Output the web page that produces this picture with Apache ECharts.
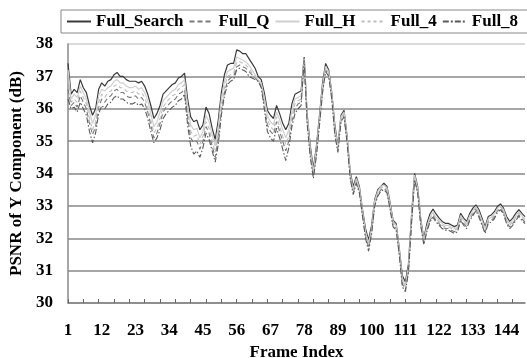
<!DOCTYPE html>
<html>
<head>
	<meta charset="utf-8">
	<title>PSNR of Y Component</title>
	<style>
		html, body { margin: 0; padding: 0; background: #fff; }
	</style>
</head>
<body>
<script type="text/javascript" src="https://cdn.jsdelivr.net/npm/echarts@6/dist/echarts.min.js"></script>
<div style="width:527px;height:358px;" id="chart"></div>
<script>
// frame index 1..150
var frames = [];
for (var f = 1; f <= 150; f++) { frames.push(String(f)); }

var seriesNames = ['Full_Search', 'Full_Q', 'Full_H', 'Full_4', 'Full_8'];

var fullSearch = [
    37.4, 36.45, 36.6, 36.5, 36.9, 36.65, 36.5, 36.1, 35.8, 36.0,
    36.6, 36.8, 36.7, 36.85, 36.9, 37.05, 37.12, 37.0, 37.0, 36.9,
    36.85, 36.85, 36.85, 36.8, 36.85, 36.7, 36.45, 36.1, 35.7, 35.85,
    36.1, 36.45, 36.55, 36.65, 36.75, 36.8, 36.95, 37.0, 37.1, 36.3,
    35.75, 35.6, 35.65, 35.35, 35.5, 36.05, 35.85, 35.4, 35.05, 35.65,
    36.5, 37.05, 37.35, 37.4, 37.4, 37.82, 37.78, 37.7, 37.7, 37.55,
    37.4, 37.25, 37.0, 36.9, 36.5, 35.95, 35.8, 35.7, 36.1, 35.85,
    35.55, 35.35, 35.55, 36.15, 36.45, 36.5, 36.55, 37.6, 35.8, 34.85,
    34.15, 34.85, 35.8, 36.8, 37.4, 37.2, 36.5, 35.5, 34.85, 35.8,
    35.95, 35.15, 34.05, 33.6, 33.9, 33.6, 32.9, 32.3, 31.95, 32.4,
    33.2, 33.5, 33.6, 33.7, 33.6, 33.1, 32.55, 32.45, 31.7, 30.85,
    30.65, 31.2, 32.7, 34.0, 33.6, 32.6, 32.0, 32.45, 32.75, 32.9,
    32.75, 32.62, 32.52, 32.46, 32.46, 32.41, 32.36, 32.41, 32.77, 32.62,
    32.52, 32.77, 32.93, 33.03, 32.88, 32.62, 32.36, 32.67, 32.72, 32.82,
    32.98, 33.06, 32.93, 32.67, 32.52, 32.62, 32.77, 32.88, 32.77, 32.67
];
var fullQ = [
    36.6, 36.1, 36.2, 36.05, 36.4, 36.2, 36.0, 35.55, 35.2, 35.45,
    36.05, 36.3, 36.2, 36.35, 36.4, 36.55, 36.6, 36.5, 36.5, 36.4,
    36.35, 36.35, 36.4, 36.3, 36.35, 36.2, 35.9, 35.5, 35.1, 35.25,
    35.55, 35.9, 36.05, 36.15, 36.25, 36.3, 36.45, 36.5, 36.6, 35.75,
    35.1, 34.95, 35.0, 34.75, 35.0, 35.45, 35.25, 34.85, 34.5, 35.1,
    35.95, 36.5, 36.85, 36.95, 37.0, 37.3, 37.35, 37.3, 37.25, 37.15,
    37.05, 36.95, 36.85, 36.7, 36.15, 35.5, 35.3, 35.2, 35.6, 35.3,
    35.0, 34.7, 35.0, 35.6, 36.0, 36.15, 36.2, 37.45, 35.6, 34.6,
    33.95, 34.65, 35.6, 36.55, 37.2, 37.05, 36.35, 35.3, 34.7, 35.65,
    35.8, 35.0, 33.9, 33.4, 33.75, 33.45, 32.75, 32.1, 31.7, 32.2,
    33.05, 33.35, 33.5, 33.55, 33.45, 32.95, 32.4, 32.3, 31.55, 30.6,
    30.4, 31.0, 32.5, 33.85, 33.45, 32.45, 31.85, 32.25, 32.55, 32.7,
    32.55, 32.45, 32.35, 32.3, 32.3, 32.25, 32.2, 32.25, 32.6, 32.45,
    32.35, 32.6, 32.75, 32.9, 32.7, 32.45, 32.2, 32.5, 32.55, 32.65,
    32.85, 32.92, 32.8, 32.5, 32.35, 32.45, 32.6, 32.72, 32.6, 32.5
];
var fullH = [
    37.2, 36.3, 36.45, 36.35, 36.7, 36.5, 36.3, 35.9, 35.55, 35.8,
    36.4, 36.6, 36.55, 36.65, 36.7, 36.85, 36.9, 36.8, 36.8, 36.7,
    36.65, 36.65, 36.7, 36.6, 36.65, 36.5, 36.25, 35.85, 35.45, 35.6,
    35.9, 36.25, 36.35, 36.45, 36.55, 36.6, 36.75, 36.8, 36.9, 36.1,
    35.5, 35.35, 35.4, 35.1, 35.3, 35.8, 35.6, 35.2, 34.85, 35.45,
    36.3, 36.85, 37.15, 37.2, 37.25, 37.6, 37.55, 37.5, 37.45, 37.35,
    37.2, 37.05, 36.9, 36.8, 36.35, 35.8, 35.6, 35.5, 35.9, 35.65,
    35.35, 35.1, 35.35, 35.95, 36.3, 36.35, 36.4, 37.55, 35.75, 34.75,
    34.05, 34.75, 35.7, 36.7, 37.3, 37.15, 36.45, 35.4, 34.8, 35.75,
    35.9, 35.1, 34.0, 33.5, 33.85, 33.55, 32.85, 32.2, 31.85, 32.3,
    33.15, 33.45, 33.6, 33.65, 33.55, 33.05, 32.5, 32.4, 31.65, 30.75,
    30.55, 31.1, 32.6, 33.95, 33.55, 32.55, 31.95, 32.35, 32.65, 32.8,
    32.65, 32.55, 32.45, 32.4, 32.4, 32.35, 32.3, 32.35, 32.7, 32.55,
    32.45, 32.7, 32.85, 32.98, 32.8, 32.55, 32.3, 32.6, 32.65, 32.75,
    32.92, 33.0, 32.88, 32.6, 32.45, 32.55, 32.7, 32.82, 32.7, 32.6
];
var full4 = [
    36.9, 36.2, 36.3, 36.2, 36.55, 36.35, 36.15, 35.7, 35.35, 35.6,
    36.2, 36.45, 36.35, 36.5, 36.55, 36.7, 36.75, 36.65, 36.65, 36.55,
    36.5, 36.5, 36.55, 36.45, 36.5, 36.35, 36.05, 35.65, 35.25, 35.4,
    35.7, 36.05, 36.2, 36.3, 36.4, 36.45, 36.6, 36.65, 36.75, 35.9,
    35.3, 35.15, 35.2, 34.9, 35.15, 35.6, 35.4, 35.0, 34.65, 35.25,
    36.1, 36.65, 37.0, 37.05, 37.1, 37.45, 37.45, 37.4, 37.35, 37.25,
    37.1, 37.0, 36.85, 36.75, 36.25, 35.65, 35.45, 35.35, 35.75, 35.45,
    35.15, 34.9, 35.15, 35.75, 36.15, 36.25, 36.3, 37.5, 35.7, 34.7,
    34.0, 34.7, 35.65, 36.6, 37.25, 37.1, 36.4, 35.35, 34.75, 35.7,
    35.85, 35.05, 33.95, 33.45, 33.8, 33.5, 32.8, 32.15, 31.8, 32.25,
    33.1, 33.4, 33.55, 33.6, 33.5, 33.0, 32.45, 32.35, 31.6, 30.7,
    30.5, 31.05, 32.55, 33.9, 33.5, 32.5, 31.9, 32.3, 32.6, 32.75,
    32.6, 32.5, 32.4, 32.35, 32.35, 32.3, 32.25, 32.3, 32.65, 32.5,
    32.4, 32.65, 32.8, 32.95, 32.75, 32.5, 32.25, 32.55, 32.6, 32.7,
    32.88, 32.96, 32.84, 32.55, 32.4, 32.5, 32.65, 32.78, 32.65, 32.55
];
var full8 = [
    36.3, 36.0, 36.05, 35.9, 36.2, 36.0, 35.8, 35.3, 34.95, 35.25,
    35.85, 36.1, 36.0, 36.15, 36.2, 36.35, 36.4, 36.3, 36.3, 36.2,
    36.15, 36.15, 36.2, 36.1, 36.15, 36.0, 35.7, 35.3, 34.95, 35.1,
    35.35, 35.7, 35.85, 35.95, 36.05, 36.1, 36.25, 36.3, 36.45, 35.5,
    34.85, 34.6, 34.7, 34.5, 34.8, 35.25, 35.05, 34.7, 34.35, 34.9,
    35.8, 36.4, 36.75, 36.85, 36.9, 37.2, 37.25, 37.2, 37.15, 37.0,
    36.95, 36.9, 36.85, 36.65, 36.0, 35.3, 35.1, 35.0, 35.4, 35.1,
    34.75, 34.4, 34.8, 35.45, 35.85, 36.0, 36.1, 37.5, 35.5, 34.5,
    33.85, 34.55, 35.5, 36.5, 37.15, 37.0, 36.3, 35.2, 34.65, 35.6,
    35.75, 34.95, 33.85, 33.35, 33.7, 33.4, 32.7, 32.0, 31.6, 32.15,
    33.0, 33.3, 33.45, 33.5, 33.4, 32.9, 32.35, 32.25, 31.5, 30.5,
    30.35, 30.95, 32.45, 33.8, 33.4, 32.4, 31.8, 32.2, 32.5, 32.65,
    32.5, 32.4, 32.3, 32.25, 32.25, 32.2, 32.15, 32.2, 32.55, 32.4,
    32.3, 32.55, 32.7, 32.85, 32.65, 32.4, 32.15, 32.45, 32.5, 32.6,
    32.8, 32.88, 32.75, 32.45, 32.3, 32.4, 32.55, 32.68, 32.55, 32.45
];

// legend keys drawn as small bar paths (solid / dashed / dash-dot)
var legendIcons = {
    'Full_Search': 'path://M0,0h24v2h-24z',
    'Full_Q': 'path://M0,0h5v2h-5z M8,0h5v2h-5z M16,0h5v2h-5z M24,0h0.01v2h-0.01z',
    'Full_H': 'path://M0,0h24v2h-24z',
    'Full_4': 'path://M0,0h3v2h-3z M6,0h3v2h-3z M12,0h3v2h-3z M18,0h3v2h-3z M23.99,0h0.01v2h-0.01z',
    'Full_8': 'path://M0,0h6v2h-6z M8,0h2v2h-2z M12,0h6v2h-6z M20,0h2v2h-2z M24,0h0.01v2h-0.01z'
};

var chart = echarts.init(document.getElementById('chart'));
var fontFam = '"Liberation Serif", "Times New Roman", serif';

function mkLine(name, data, color, width, type) {
    return {
        name: name,
        type: 'line',
        data: data,
        symbol: 'none',
        showSymbol: false,
        animation: false,
        lineStyle: { color: color, width: width, type: type },
        itemStyle: { color: color }
    };
}

var option = {
    animation: false,
    backgroundColor: '#fff',
    legend: {
        left: 61,
        top: 10,
        width: 470,
        padding: [3, 12, 3, 6],
        itemGap: 6,
        itemWidth: 24,
        itemHeight: 2,
        symbolKeepAspect: false,
        borderColor: '#888',
        borderWidth: 1,
        backgroundColor: '#fff',
        data: seriesNames.map(function (n) { return { name: n, icon: legendIcons[n] }; }),
        textStyle: { fontFamily: fontFam, fontWeight: 'bold', fontSize: 17, color: '#000' }
    },
    grid: { left: 68, right: 2, top: 44, bottom: 55, containLabel: false, outerBoundsMode: 'none' },
    xAxis: {
        type: 'category',
        data: frames,
        boundaryGap: false,
        name: 'Frame Index',
        nameLocation: 'middle',
        nameGap: 38,
        nameTextStyle: { fontFamily: fontFam, fontWeight: 'bold', fontSize: 17, color: '#000' },
        axisLine: { lineStyle: { color: '#888', width: 1.5 } },
        axisTick: {
            inside: true, length: 4,
            interval: function (i) { return i % 5 === 0; },
            lineStyle: { color: '#666' }
        },
        axisLabel: {
            interval: function (i) { return i % 11 === 0; },
            margin: 19,
            fontFamily: fontFam, fontWeight: 'bold', fontSize: 17, color: '#000'
        },
        splitLine: { show: false }
    },
    yAxis: {
        type: 'value',
        min: 30,
        max: 38,
        interval: 1,
        name: 'PSNR of Y Component (dB)',
        nameLocation: 'middle',
        nameGap: 41,
        nameTextStyle: { fontFamily: fontFam, fontWeight: 'bold', fontSize: 17, color: '#000' },
        axisLine: { show: true, lineStyle: { color: '#888', width: 1.5 } },
        axisTick: { show: false },
        axisLabel: { margin: 15, fontFamily: fontFam, fontWeight: 'bold', fontSize: 17, color: '#000' },
        splitLine: {
            lineStyle: {
                color: ['#888', '#888', '#888', '#888', '#888', '#888', '#888', '#888', '#cfcfcf'],
                width: 1.5
            }
        }
    },
    series: [
        mkLine('Full_Search', fullSearch, '#3a3a3a', 1.2, 'solid'),
        mkLine('Full_Q', fullQ, '#7a7a7a', 1.1, [5, 3]),
        mkLine('Full_H', fullH, '#cfcfcf', 1.2, 'solid'),
        mkLine('Full_4', full4, '#bdbdbd', 1.1, [4, 3]),
        mkLine('Full_8', full8, '#5a5a5a', 1.1, [6, 2, 1.5, 2])
    ]
};
chart.setOption(option);
</script>
</body>
</html>
